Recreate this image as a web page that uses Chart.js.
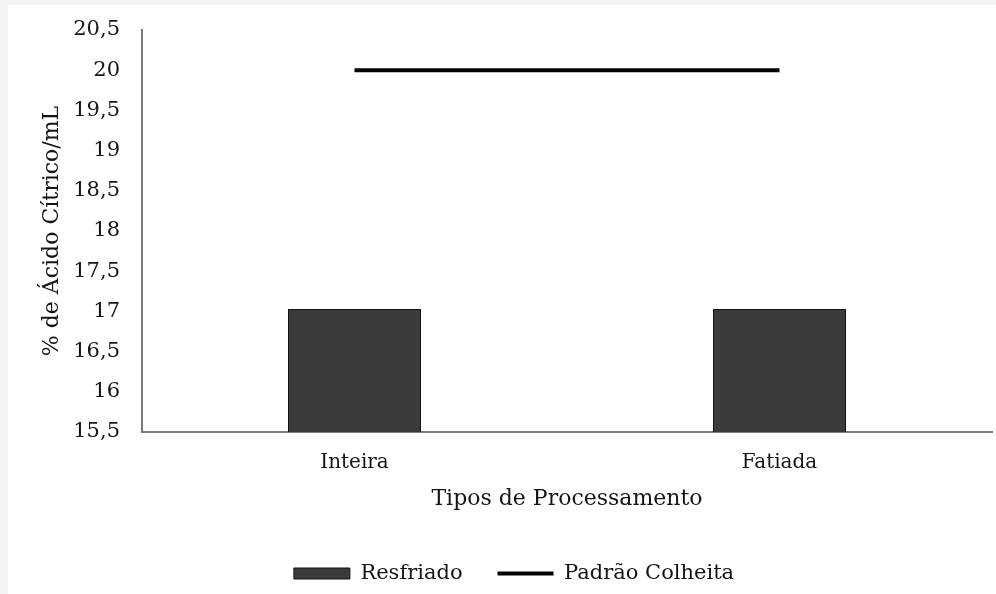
<!DOCTYPE html>
<html>
<head>
<meta charset="utf-8">
<script src="https://cdn.jsdelivr.net/npm/chart.js@4/dist/chart.umd.min.js"></script>
<style>
  html, body { margin: 0; padding: 0; background: #f3f3f3; }
  #wrap { position: absolute; left: 8px; top: 5px; width: 988px; height: 589px; background: #ffffff; }
  canvas { display: block; }
</style>
</head>
<body>
<div id="wrap"><canvas id="chart" width="988" height="589"></canvas></div>
<script>
// Categories and measured values
const categories = ['Inteira', 'Fatiada'];
const resfriado = [17.03, 17.03];
const padraoColheita = [20, 20];
const yTickLabels = ['15,5', '16', '16,5', '17', '17,5', '18', '18,5', '19', '19,5', '20', '20,5'];

const serif = '"DejaVu Serif", "Liberation Serif", serif';
const textColor = '#151515';
const axisColor = '#7a7a7a';

new Chart(document.getElementById('chart'), {
  data: {
    labels: categories,
    datasets: [
      {
        type: 'bar',
        label: 'Resfriado',
        data: resfriado,
        backgroundColor: '#3b3b3b',
        borderColor: '#151515',
        borderWidth: 1,
        categoryPercentage: 1,
        barPercentage: 0.313,
        pointStyle: 'rect',
        order: 2
      },
      {
        type: 'line',
        label: 'Padrão Colheita',
        data: padraoColheita,
        borderColor: '#000000',
        backgroundColor: '#000000',
        borderWidth: 4,
        pointRadius: 0,
        pointHoverRadius: 0,
        pointStyle: 'line',
        fill: false,
        order: 1
      }
    ]
  },
  options: {
    responsive: false,
    animation: false,
    layout: { padding: { top: 25, right: 4, left: 28, bottom: 0 } },
    plugins: {
      tooltip: { enabled: false },
      legend: {
        position: 'bottom',
        labels: {
          usePointStyle: true,
          pointStyleWidth: 56,
          boxHeight: 11,
          padding: 35,
          color: textColor,
          font: { family: serif, size: 21 },
          generateLabels(chart) {
            return chart.data.datasets.map((ds, i) => ({
              text: ds.label,
              fillStyle: ds.type === 'bar' ? '#3b3b3b' : '#000000',
              strokeStyle: ds.type === 'bar' ? '#151515' : '#000000',
              lineWidth: ds.type === 'bar' ? 1 : 4,
              pointStyle: ds.pointStyle,
              fontColor: textColor,
              hidden: false,
              datasetIndex: i
            }));
          }
        }
      }
    },
    scales: {
      x: {
        type: 'category',
        offset: true,
        grid: { display: false, drawTicks: false },
        border: { display: true, color: axisColor, width: 2 },
        ticks: { color: textColor, padding: 19, font: { family: serif, size: 20 } },
        title: {
          display: true,
          text: 'Tipos de Processamento',
          color: textColor,
          font: { family: serif, size: 22 },
          padding: { top: 0, bottom: 16 }
        },
        afterFit(scale) {
          scale.height = 96;
          scale.paddingLeft = 0;
          scale.paddingRight = 0;
        }
      },
      y: {
        type: 'linear',
        min: 15.5,
        max: 20.5,
        grid: { display: false, drawTicks: false },
        border: { display: true, color: axisColor, width: 2 },
        ticks: {
          stepSize: 0.5,
          padding: 22,
          color: textColor,
          font: { family: serif, size: 21 },
          callback: (value, index) => yTickLabels[index]
        },
        title: {
          display: true,
          text: '% de Ácido Cítrico/mL',
          color: textColor,
          font: { family: serif, size: 22 },
          padding: { top: 3, bottom: 0 }
        },
        afterFit(scale) {
          scale.width = 106;
          scale.paddingTop = 0;
          scale.paddingBottom = 0;
        }
      }
    }
  }
});
</script>
</body>
</html>
